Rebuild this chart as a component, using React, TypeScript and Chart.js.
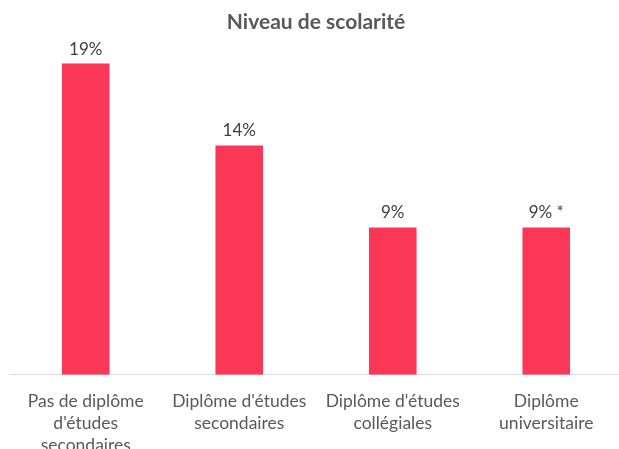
import React, { useEffect, useRef } from "react";
import { Chart, registerables } from "chart.js";

Chart.register(...registerables);

const categories: string[][] = [
  ["Pas de diplôme", "d'études", "secondaires"],
  ["Diplôme d'études", "secondaires"],
  ["Diplôme d'études", "collégiales"],
  ["Diplôme", "universitaire"],
];
const values: number[] = [19, 14, 9, 9];
const valueLabels: string[] = ["19%", "14%", "9%", "9% *"];
const chartTitle = "Niveau de scolarité";

const FONT = "Lato, 'Open Sans', sans-serif";

const valueLabelPlugin = {
  id: "valueLabels",
  afterDatasetsDraw(chart: any) {
    const ctx = chart.ctx;
    const meta = chart.getDatasetMeta(0);
    ctx.save();
    ctx.font = `17px ${FONT}`;
    ctx.fillStyle = "#404040";
    ctx.textAlign = "center";
    ctx.textBaseline = "alphabetic";
    meta.data.forEach((bar: any, i: number) => {
      ctx.fillText(valueLabels[i], bar.x, bar.y - 9);
    });
    ctx.restore();
  },
};

export default function App() {
  const ref = useRef<HTMLCanvasElement | null>(null);
  useEffect(() => {
    if (!ref.current) return;
    const chart = new Chart(ref.current, {
      type: "bar",
      data: {
        labels: categories,
        datasets: [
          {
            data: values,
            backgroundColor: "#FA3757",
            barPercentage: 0.31,
            categoryPercentage: 1,
          },
        ],
      },
      options: {
        animation: false,
        responsive: false,
        layout: { padding: { left: 9, right: 9, top: 0, bottom: 0 } },
        plugins: {
          legend: { display: false },
          tooltip: { enabled: false },
          title: {
            display: true,
            text: chartTitle,
            color: "#595959",
            font: { family: FONT, size: 21, weight: "bold", lineHeight: 1.2 },
            padding: { top: 10, bottom: 12 },
          },
        },
        scales: {
          x: {
            grid: { display: false },
            border: { display: true, color: "#D9D9D9", width: 1 },
            ticks: {
              color: "#595959",
              font: { family: FONT, size: 17.5, lineHeight: 1.26 },
              padding: 7,
              maxRotation: 0,
              autoSkip: false,
            },
          },
          y: {
            display: false,
            min: 0,
            max: 20,
          },
        },
      },
      plugins: [valueLabelPlugin],
    });
    return () => chart.destroy();
  }, []);
  return (
    <div
      style={{
        position: "absolute",
        left: 0,
        top: 0,
        width: 619,
        height: 449,
        overflow: "hidden",
        background: "#fff",
      }}
    >
      <canvas ref={ref} width={632} height={463} style={{ width: 632, height: 463, display: "block" }} />
    </div>
  );
}
